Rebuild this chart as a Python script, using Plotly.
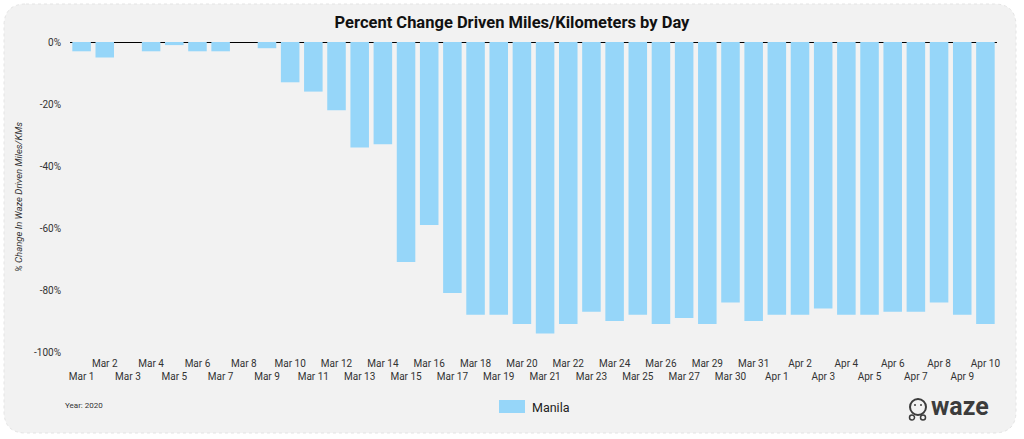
import plotly.graph_objects as go

days = ["Mar 1", "Mar 2", "Mar 3", "Mar 4", "Mar 5", "Mar 6", "Mar 7", "Mar 8", "Mar 9", "Mar 10",
        "Mar 11", "Mar 12", "Mar 13", "Mar 14", "Mar 15", "Mar 16", "Mar 17", "Mar 18", "Mar 19", "Mar 20",
        "Mar 21", "Mar 22", "Mar 23", "Mar 24", "Mar 25", "Mar 26", "Mar 27", "Mar 29", "Mar 30", "Mar 31",
        "Apr 1", "Apr 2", "Apr 3", "Apr 4", "Apr 5", "Apr 6", "Apr 7", "Apr 8", "Apr 9", "Apr 10"]
manila = [-3, -5, 0, -3, -1, -3, -3, 0, -2, -13,
          -16, -22, -34, -33, -71, -59, -81, -88, -88, -91,
          -94, -91, -87, -90, -88, -91, -89, -91, -84, -90,
          -88, -88, -86, -88, -88, -87, -87, -84, -88, -91]
y_ticks = [0, -20, -40, -60, -80, -100]
y_tick_labels = ["0%", "-20%", "-40%", "-60%", "-80%", "-100%"]

# staggered x tick labels: odd positions drop to second row
x_tick_text = [("<br>" + d) if i % 2 == 0 else d for i, d in enumerate(days)]

BAR = "#96d6f9"
FONT = "Roboto"

W, H = 1024, 439
L, R, T, B = 70, 27, 42, 87
PW, PH = W - L - R, H - T - B


def px(x):
    return (x - L) / PW


def py(y):
    return (H - B - y) / PH


fig = go.Figure()
fig.add_trace(go.Bar(x=days, y=manila, marker=dict(color=BAR, line=dict(width=0)),
                     name="Manila", showlegend=False))

# rounded background card
x0, x1, y0, y1, r = 4, 1016, 4, 433, 22
path = (f"M {px(x0 + r)},{py(y0)} L {px(x1 - r)},{py(y0)} Q {px(x1)},{py(y0)} {px(x1)},{py(y0 + r)} "
        f"L {px(x1)},{py(y1 - r)} Q {px(x1)},{py(y1)} {px(x1 - r)},{py(y1)} "
        f"L {px(x0 + r)},{py(y1)} Q {px(x0)},{py(y1)} {px(x0)},{py(y1 - r)} "
        f"L {px(x0)},{py(y0 + r)} Q {px(x0)},{py(y0)} {px(x0 + r)},{py(y0)} Z")
shapes = [dict(type="path", path=path, xref="paper", yref="paper", layer="below",
               fillcolor="#f2f2f2", line=dict(color="#e4e4e4", width=1, dash="dot"))]

# legend swatch
shapes.append(dict(type="rect", xref="paper", yref="paper", x0=px(499), x1=px(525), y0=py(413), y1=py(400),
                   fillcolor=BAR, line=dict(width=0)))

# waze icon (simple)
cx, cy, rad = 918, 407, 8
shapes.append(dict(type="circle", xref="paper", yref="paper", x0=px(cx - rad), x1=px(cx + rad),
                   y0=py(cy + rad), y1=py(cy - rad), line=dict(color="#3c3c3c", width=2)))
for ex in (915, 921):
    shapes.append(dict(type="circle", xref="paper", yref="paper", x0=px(ex - 1), x1=px(ex + 1),
                       y0=py(cy - 1), y1=py(cy - 3), fillcolor="#3c3c3c", line=dict(width=0)))
for wx in (912, 923):
    shapes.append(dict(type="circle", xref="paper", yref="paper", x0=px(wx - 2.5), x1=px(wx + 2.5),
                       y0=py(cy + 13), y1=py(cy + 8), fillcolor="#f2f2f2", line=dict(color="#3c3c3c", width=1.5)))

annotations = [
    dict(text="<i>% Change In Waze Driven Miles/KMs</i>", xref="paper", yref="paper", x=px(18), y=0.5,
         xanchor="center", yanchor="middle", textangle=-90, showarrow=False,
         font=dict(family=FONT, size=9.5, color="#333333")),
    dict(text="Manila", xref="paper", yref="paper", x=px(530), y=py(407), xanchor="left", yanchor="middle",
         showarrow=False, font=dict(family=FONT, size=12.5, color="#222222")),
    dict(text="Year: 2020", xref="paper", yref="paper", x=px(63), y=py(405), xanchor="left", yanchor="middle",
         showarrow=False, font=dict(family=FONT, size=8, color="#333333")),
    dict(text="<b>waze</b>", xref="paper", yref="paper", x=px(929), y=py(406), xanchor="left", yanchor="middle",
         showarrow=False, font=dict(family=FONT, size=25, color="#3c3c3c")),
]

fig.update_layout(
    width=W, height=H,
    margin=dict(l=L, r=R, t=T, b=B, autoexpand=False),
    paper_bgcolor="white", plot_bgcolor="rgba(0,0,0,0)",
    title=dict(text="<b>Percent Change Driven Miles/Kilometers by Day</b>", x=0.5, xanchor="center",
               y=1 - 22 / H, yanchor="middle", yref="container",
               font=dict(family=FONT, size=16.5, color="#111111")),
    bargap=0.2,
    shapes=shapes, annotations=annotations,
    font=dict(family=FONT, color="#333333"),
)
fig.update_xaxes(type="category", tickmode="array", tickvals=days, ticktext=x_tick_text,
                 tickfont=dict(family=FONT, size=10, color="#333333"), showgrid=False, showline=False,
                 ticks="", ticklabelstandoff=4, tickangle=0, automargin=False)
fig.update_yaxes(range=[-100, 0], tickmode="array", tickvals=y_ticks, ticktext=y_tick_labels,
                 tickfont=dict(family=FONT, size=10, color="#333333"), showgrid=False,
                 zeroline=True, zerolinecolor="#000000", zerolinewidth=1, showline=False, ticks="",
                 ticklabelstandoff=8, automargin=False)

fig.write_html("out.html", config={"displayModeBar": False},
               post_script="document.body.style.margin='0';document.body.style.padding='0';")
